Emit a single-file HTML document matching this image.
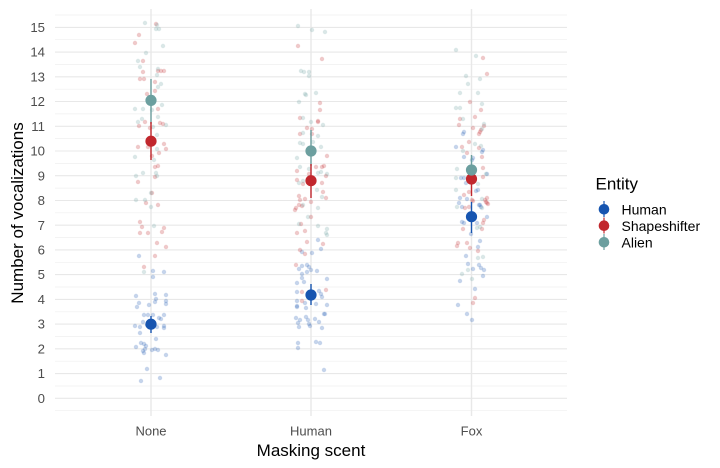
<!DOCTYPE html>
<html><head><meta charset="utf-8"><style>
html,body{margin:0;padding:0;background:#fff;}
svg{display:block;}
text{font-family:"Liberation Sans",Arial,sans-serif;}
.b{fill:#1755b0;fill-opacity:0.25}
.r{fill:#c1272d;fill-opacity:0.25}
.t{fill:#6c9f9f;fill-opacity:0.25}
.yt{font-size:13.2px;fill:#4d4d4d;text-anchor:end}
.xt{font-size:13px;fill:#4d4d4d;text-anchor:middle}
</style></head><body>
<svg width="720" height="468" viewBox="0 0 720 468" xmlns="http://www.w3.org/2000/svg">
<rect width="720" height="468" fill="#fff"/>
<g stroke="#efefef" stroke-width="0.7">
<line x1="55" x2="567" y1="410.7" y2="410.7"/><line x1="55" x2="567" y1="386.0" y2="386.0"/><line x1="55" x2="567" y1="361.2" y2="361.2"/><line x1="55" x2="567" y1="336.5" y2="336.5"/><line x1="55" x2="567" y1="311.8" y2="311.8"/><line x1="55" x2="567" y1="287.0" y2="287.0"/><line x1="55" x2="567" y1="262.3" y2="262.3"/><line x1="55" x2="567" y1="237.6" y2="237.6"/><line x1="55" x2="567" y1="212.8" y2="212.8"/><line x1="55" x2="567" y1="188.1" y2="188.1"/><line x1="55" x2="567" y1="163.4" y2="163.4"/><line x1="55" x2="567" y1="138.6" y2="138.6"/><line x1="55" x2="567" y1="113.9" y2="113.9"/><line x1="55" x2="567" y1="89.2" y2="89.2"/><line x1="55" x2="567" y1="64.4" y2="64.4"/><line x1="55" x2="567" y1="39.7" y2="39.7"/><line x1="55" x2="567" y1="15.0" y2="15.0"/>
</g>
<g stroke="#e8e8e8" stroke-width="1.1">
<line x1="55" x2="567" y1="398.3" y2="398.3"/><line x1="55" x2="567" y1="373.6" y2="373.6"/><line x1="55" x2="567" y1="348.8" y2="348.8"/><line x1="55" x2="567" y1="324.1" y2="324.1"/><line x1="55" x2="567" y1="299.4" y2="299.4"/><line x1="55" x2="567" y1="274.6" y2="274.6"/><line x1="55" x2="567" y1="249.9" y2="249.9"/><line x1="55" x2="567" y1="225.2" y2="225.2"/><line x1="55" x2="567" y1="200.5" y2="200.5"/><line x1="55" x2="567" y1="175.7" y2="175.7"/><line x1="55" x2="567" y1="151.0" y2="151.0"/><line x1="55" x2="567" y1="126.3" y2="126.3"/><line x1="55" x2="567" y1="101.5" y2="101.5"/><line x1="55" x2="567" y1="76.8" y2="76.8"/><line x1="55" x2="567" y1="52.1" y2="52.1"/><line x1="55" x2="567" y1="27.4" y2="27.4"/>
<line x1="151" x2="151" y1="9" y2="416" stroke-width="1.4"/><line x1="311" x2="311" y1="9" y2="416" stroke-width="1.4"/><line x1="471.5" x2="471.5" y1="9" y2="416" stroke-width="1.4"/>
</g>
<g class="yt">
<text x="45" y="402.9">0</text><text x="45" y="378.2">1</text><text x="45" y="353.4">2</text><text x="45" y="328.7">3</text><text x="45" y="304.0">4</text><text x="45" y="279.2">5</text><text x="45" y="254.5">6</text><text x="45" y="229.8">7</text><text x="45" y="205.1">8</text><text x="45" y="180.3">9</text><text x="45" y="155.6">10</text><text x="45" y="130.9">11</text><text x="45" y="106.1">12</text><text x="45" y="81.4">13</text><text x="45" y="56.7">14</text><text x="45" y="32.0">15</text>
</g>
<g class="xt"><text x="151" y="435.3">None</text><text x="311" y="435.3">Human</text><text x="471.5" y="435.3">Fox</text></g>
<text x="311" y="456" font-size="17" text-anchor="middle" fill="#000">Masking scent</text>
<text transform="translate(23,213) rotate(-90)" font-size="17" text-anchor="middle" fill="#000">Number of vocalizations</text>

<!-- blue points -->
<g class="b">
<circle cx="139" cy="256" r="2.2"/><circle cx="153" cy="271" r="2.2"/><circle cx="164" cy="272" r="2.2"/><circle cx="153" cy="277" r="2.2"/><circle cx="136" cy="296" r="2.2"/><circle cx="155" cy="294" r="2.2"/><circle cx="166" cy="295" r="2.2"/><circle cx="156" cy="299" r="2.2"/><circle cx="155" cy="302" r="2.2"/><circle cx="166" cy="301" r="2.2"/><circle cx="166" cy="304" r="2.2"/><circle cx="139" cy="303" r="2.2"/><circle cx="137" cy="307" r="2.2"/><circle cx="149" cy="305" r="2.2"/><circle cx="144" cy="315" r="2.2"/><circle cx="148" cy="315" r="2.2"/><circle cx="153" cy="315" r="2.2"/><circle cx="164" cy="315" r="2.2"/><circle cx="159" cy="318" r="2.2"/><circle cx="161" cy="319" r="2.2"/><circle cx="143" cy="322" r="2.2"/><circle cx="135" cy="326" r="2.2"/><circle cx="140" cy="327" r="2.2"/><circle cx="147" cy="325" r="2.2"/><circle cx="157" cy="327" r="2.2"/><circle cx="164" cy="326" r="2.2"/><circle cx="164" cy="328" r="2.2"/><circle cx="140" cy="333" r="2.2"/><circle cx="156" cy="339" r="2.2"/><circle cx="141" cy="343" r="2.2"/><circle cx="144" cy="344" r="2.2"/><circle cx="136" cy="347" r="2.2"/><circle cx="146" cy="346" r="2.2"/><circle cx="145" cy="349" r="2.2"/><circle cx="152" cy="350" r="2.2"/><circle cx="155" cy="349" r="2.2"/><circle cx="158" cy="350" r="2.2"/><circle cx="166" cy="355" r="2.2"/><circle cx="143" cy="351" r="2.2"/><circle cx="144" cy="353" r="2.2"/><circle cx="147" cy="369" r="2.2"/><circle cx="141" cy="381" r="2.2"/><circle cx="160" cy="378" r="2.2"/>
<circle cx="318" cy="240" r="2.2"/><circle cx="321" cy="249" r="2.2"/><circle cx="312" cy="253" r="2.2"/><circle cx="302" cy="252" r="2.2"/><circle cx="302" cy="266" r="2.2"/><circle cx="307" cy="265" r="2.2"/><circle cx="309" cy="267" r="2.2"/><circle cx="311" cy="270" r="2.2"/><circle cx="299" cy="269" r="2.2"/><circle cx="307" cy="272" r="2.2"/><circle cx="317" cy="271" r="2.2"/><circle cx="302" cy="274" r="2.2"/><circle cx="302" cy="278" r="2.2"/><circle cx="327" cy="279" r="2.2"/><circle cx="297" cy="283" r="2.2"/><circle cx="304" cy="282" r="2.2"/><circle cx="297" cy="292" r="2.2"/><circle cx="319" cy="291" r="2.2"/><circle cx="321" cy="294" r="2.2"/><circle cx="322" cy="297" r="2.2"/><circle cx="297" cy="301" r="2.2"/><circle cx="305" cy="303" r="2.2"/><circle cx="316" cy="304" r="2.2"/><circle cx="297" cy="306" r="2.2"/><circle cx="297" cy="307" r="2.2"/><circle cx="327" cy="305" r="2.2"/><circle cx="306" cy="308" r="2.2"/><circle cx="324" cy="314" r="2.2"/><circle cx="325" cy="314" r="2.2"/><circle cx="296" cy="318" r="2.2"/><circle cx="306" cy="317" r="2.2"/><circle cx="300" cy="320" r="2.2"/><circle cx="308" cy="320" r="2.2"/><circle cx="315" cy="319" r="2.2"/><circle cx="319" cy="322" r="2.2"/><circle cx="298" cy="323" r="2.2"/><circle cx="309" cy="324" r="2.2"/><circle cx="310" cy="326" r="2.2"/><circle cx="299" cy="327" r="2.2"/><circle cx="322" cy="328" r="2.2"/><circle cx="298" cy="343" r="2.2"/><circle cx="298" cy="348" r="2.2"/><circle cx="316" cy="342" r="2.2"/><circle cx="320" cy="343" r="2.2"/><circle cx="324" cy="370" r="2.2"/>
<circle cx="464" cy="132" r="2.2"/><circle cx="463" cy="134" r="2.2"/><circle cx="456" cy="147" r="2.2"/><circle cx="483" cy="150" r="2.2"/><circle cx="482" cy="152" r="2.2"/><circle cx="464" cy="157" r="2.2"/><circle cx="473" cy="158" r="2.2"/><circle cx="472" cy="160" r="2.2"/><circle cx="461" cy="178" r="2.2"/><circle cx="464" cy="178" r="2.2"/><circle cx="466" cy="183" r="2.2"/><circle cx="487" cy="174" r="2.2"/><circle cx="478" cy="190" r="2.2"/><circle cx="476" cy="191" r="2.2"/><circle cx="460" cy="198" r="2.2"/><circle cx="467" cy="199" r="2.2"/><circle cx="459" cy="203" r="2.2"/><circle cx="462" cy="207" r="2.2"/><circle cx="480" cy="205" r="2.2"/><circle cx="481" cy="207" r="2.2"/><circle cx="479" cy="205" r="2.2"/><circle cx="462" cy="222" r="2.2"/><circle cx="464" cy="223" r="2.2"/><circle cx="487" cy="217" r="2.2"/><circle cx="477" cy="223" r="2.2"/><circle cx="471" cy="234" r="2.2"/><circle cx="480" cy="241" r="2.2"/><circle cx="478" cy="247" r="2.2"/><circle cx="466" cy="256" r="2.2"/><circle cx="468" cy="264" r="2.2"/><circle cx="479" cy="265" r="2.2"/><circle cx="473" cy="269" r="2.2"/><circle cx="481" cy="268" r="2.2"/><circle cx="484" cy="270" r="2.2"/><circle cx="483" cy="276" r="2.2"/><circle cx="460" cy="281" r="2.2"/><circle cx="475" cy="289" r="2.2"/><circle cx="458" cy="305" r="2.2"/><circle cx="467" cy="314" r="2.2"/><circle cx="472" cy="320" r="2.2"/>
</g>
<!-- red points -->
<g class="r">
<circle cx="156" cy="24" r="2.2"/><circle cx="139" cy="35" r="2.2"/><circle cx="135" cy="43" r="2.2"/><circle cx="143" cy="61" r="2.2"/><circle cx="143" cy="72" r="2.2"/><circle cx="158" cy="71" r="2.2"/><circle cx="161" cy="71" r="2.2"/><circle cx="164" cy="71" r="2.2"/><circle cx="140" cy="79" r="2.2"/><circle cx="144" cy="79" r="2.2"/><circle cx="155" cy="82" r="2.2"/><circle cx="147" cy="94" r="2.2"/><circle cx="155" cy="91" r="2.2"/><circle cx="158" cy="109" r="2.2"/><circle cx="145" cy="122" r="2.2"/><circle cx="139" cy="126" r="2.2"/><circle cx="150" cy="128" r="2.2"/><circle cx="160" cy="123" r="2.2"/><circle cx="163" cy="124" r="2.2"/><circle cx="138" cy="147" r="2.2"/><circle cx="164" cy="144" r="2.2"/><circle cx="166" cy="149" r="2.2"/><circle cx="159" cy="153" r="2.2"/><circle cx="152" cy="156" r="2.2"/><circle cx="148" cy="147" r="2.2"/><circle cx="158" cy="166" r="2.2"/><circle cx="155" cy="167" r="2.2"/><circle cx="155" cy="177" r="2.2"/><circle cx="138" cy="182" r="2.2"/><circle cx="152" cy="193" r="2.2"/><circle cx="146" cy="203" r="2.2"/><circle cx="158" cy="205" r="2.2"/><circle cx="140" cy="222" r="2.2"/><circle cx="142" cy="227" r="2.2"/><circle cx="164" cy="228" r="2.2"/><circle cx="162" cy="232" r="2.2"/><circle cx="140" cy="233" r="2.2"/><circle cx="148" cy="233" r="2.2"/><circle cx="157" cy="243" r="2.2"/><circle cx="166" cy="247" r="2.2"/><circle cx="155" cy="256" r="2.2"/><circle cx="144" cy="267" r="2.2"/>
<circle cx="298" cy="46" r="2.2"/><circle cx="322" cy="59" r="2.2"/><circle cx="320" cy="103" r="2.2"/><circle cx="320" cy="110" r="2.2"/><circle cx="300" cy="118" r="2.2"/><circle cx="318" cy="121" r="2.2"/><circle cx="318" cy="122" r="2.2"/><circle cx="307" cy="128" r="2.2"/><circle cx="312" cy="129" r="2.2"/><circle cx="300" cy="134" r="2.2"/><circle cx="312" cy="134" r="2.2"/><circle cx="327" cy="156" r="2.2"/><circle cx="316" cy="167" r="2.2"/><circle cx="322" cy="167" r="2.2"/><circle cx="324" cy="166" r="2.2"/><circle cx="297" cy="171" r="2.2"/><circle cx="309" cy="174" r="2.2"/><circle cx="326" cy="176" r="2.2"/><circle cx="297" cy="180" r="2.2"/><circle cx="303" cy="184" r="2.2"/><circle cx="322" cy="183" r="2.2"/><circle cx="323" cy="192" r="2.2"/><circle cx="326" cy="198" r="2.2"/><circle cx="299" cy="196" r="2.2"/><circle cx="300" cy="200" r="2.2"/><circle cx="305" cy="199" r="2.2"/><circle cx="311" cy="202" r="2.2"/><circle cx="296" cy="208" r="2.2"/><circle cx="299" cy="205" r="2.2"/><circle cx="302" cy="206" r="2.2"/><circle cx="295" cy="210" r="2.2"/><circle cx="311" cy="217" r="2.2"/><circle cx="301" cy="224" r="2.2"/><circle cx="305" cy="231" r="2.2"/><circle cx="297" cy="233" r="2.2"/><circle cx="307" cy="242" r="2.2"/><circle cx="323" cy="244" r="2.2"/><circle cx="300" cy="250" r="2.2"/><circle cx="305" cy="254" r="2.2"/><circle cx="296" cy="265" r="2.2"/><circle cx="302" cy="292" r="2.2"/><circle cx="326" cy="290" r="2.2"/><circle cx="302" cy="301" r="2.2"/>
<circle cx="483" cy="58" r="2.2"/><circle cx="487" cy="74" r="2.2"/><circle cx="470" cy="102" r="2.2"/><circle cx="481" cy="110" r="2.2"/><circle cx="475" cy="117" r="2.2"/><circle cx="460" cy="119" r="2.2"/><circle cx="459" cy="125" r="2.2"/><circle cx="473" cy="128" r="2.2"/><circle cx="484" cy="126" r="2.2"/><circle cx="481" cy="130" r="2.2"/><circle cx="480" cy="132" r="2.2"/><circle cx="479" cy="134" r="2.2"/><circle cx="469" cy="142" r="2.2"/><circle cx="462" cy="147" r="2.2"/><circle cx="467" cy="153" r="2.2"/><circle cx="479" cy="148" r="2.2"/><circle cx="482" cy="157" r="2.2"/><circle cx="483" cy="168" r="2.2"/><circle cx="483" cy="177" r="2.2"/><circle cx="469" cy="192" r="2.2"/><circle cx="464" cy="195" r="2.2"/><circle cx="473" cy="201" r="2.2"/><circle cx="487" cy="198" r="2.2"/><circle cx="487" cy="203" r="2.2"/><circle cx="485" cy="200" r="2.2"/><circle cx="465" cy="208" r="2.2"/><circle cx="469" cy="207" r="2.2"/><circle cx="486" cy="202" r="2.2"/><circle cx="488" cy="204" r="2.2"/><circle cx="484" cy="220" r="2.2"/><circle cx="483" cy="223" r="2.2"/><circle cx="482" cy="229" r="2.2"/><circle cx="463" cy="229" r="2.2"/><circle cx="458" cy="243" r="2.2"/><circle cx="457" cy="246" r="2.2"/><circle cx="467" cy="243" r="2.2"/><circle cx="470" cy="248" r="2.2"/><circle cx="478" cy="251" r="2.2"/><circle cx="475" cy="298" r="2.2"/><circle cx="473" cy="303" r="2.2"/><circle cx="472" cy="200" r="2.2"/>
</g>
<!-- teal points -->
<g class="t">
<circle cx="145" cy="23" r="2.2"/><circle cx="157" cy="25" r="2.2"/><circle cx="159" cy="29" r="2.2"/><circle cx="156" cy="29" r="2.2"/><circle cx="163" cy="46" r="2.2"/><circle cx="146" cy="53" r="2.2"/><circle cx="138" cy="61" r="2.2"/><circle cx="140" cy="67" r="2.2"/><circle cx="158" cy="69" r="2.2"/><circle cx="157" cy="75" r="2.2"/><circle cx="161" cy="84" r="2.2"/><circle cx="158" cy="87" r="2.2"/><circle cx="135" cy="109" r="2.2"/><circle cx="143" cy="109" r="2.2"/><circle cx="162" cy="105" r="2.2"/><circle cx="152" cy="110" r="2.2"/><circle cx="158" cy="117" r="2.2"/><circle cx="142" cy="119" r="2.2"/><circle cx="138" cy="122" r="2.2"/><circle cx="166" cy="125" r="2.2"/><circle cx="153" cy="127" r="2.2"/><circle cx="157" cy="135" r="2.2"/><circle cx="157" cy="149" r="2.2"/><circle cx="135" cy="157" r="2.2"/><circle cx="154" cy="160" r="2.2"/><circle cx="143" cy="173" r="2.2"/><circle cx="156" cy="173" r="2.2"/><circle cx="136" cy="176" r="2.2"/><circle cx="157" cy="176" r="2.2"/><circle cx="151" cy="193" r="2.2"/><circle cx="136" cy="200" r="2.2"/><circle cx="145" cy="200" r="2.2"/><circle cx="151" cy="207" r="2.2"/><circle cx="154" cy="226" r="2.2"/><circle cx="144" cy="272" r="2.2"/>
<circle cx="298" cy="26" r="2.2"/><circle cx="312" cy="30" r="2.2"/><circle cx="325" cy="32" r="2.2"/><circle cx="301" cy="71" r="2.2"/><circle cx="304" cy="72" r="2.2"/><circle cx="309" cy="72" r="2.2"/><circle cx="309" cy="76" r="2.2"/><circle cx="305" cy="94" r="2.2"/><circle cx="306" cy="95" r="2.2"/><circle cx="316" cy="93" r="2.2"/><circle cx="299" cy="102" r="2.2"/><circle cx="303" cy="118" r="2.2"/><circle cx="311" cy="122" r="2.2"/><circle cx="323" cy="125" r="2.2"/><circle cx="303" cy="133" r="2.2"/><circle cx="318" cy="136" r="2.2"/><circle cx="313" cy="142" r="2.2"/><circle cx="300" cy="143" r="2.2"/><circle cx="303" cy="144" r="2.2"/><circle cx="321" cy="147" r="2.2"/><circle cx="297" cy="158" r="2.2"/><circle cx="300" cy="167" r="2.2"/><circle cx="309" cy="169" r="2.2"/><circle cx="321" cy="172" r="2.2"/><circle cx="318" cy="173" r="2.2"/><circle cx="327" cy="174" r="2.2"/><circle cx="299" cy="183" r="2.2"/><circle cx="303" cy="181" r="2.2"/><circle cx="317" cy="190" r="2.2"/><circle cx="322" cy="197" r="2.2"/><circle cx="318" cy="208" r="2.2"/><circle cx="303" cy="205" r="2.2"/><circle cx="308" cy="217" r="2.2"/><circle cx="318" cy="226" r="2.2"/><circle cx="327" cy="229" r="2.2"/><circle cx="326" cy="233" r="2.2"/><circle cx="327" cy="235" r="2.2"/><circle cx="299" cy="224" r="2.2"/>
<circle cx="456" cy="50" r="2.2"/><circle cx="476" cy="56" r="2.2"/><circle cx="466" cy="76" r="2.2"/><circle cx="480" cy="79" r="2.2"/><circle cx="468" cy="84" r="2.2"/><circle cx="460" cy="93" r="2.2"/><circle cx="478" cy="93" r="2.2"/><circle cx="482" cy="104" r="2.2"/><circle cx="456" cy="108" r="2.2"/><circle cx="460" cy="108" r="2.2"/><circle cx="463" cy="119" r="2.2"/><circle cx="484" cy="124" r="2.2"/><circle cx="482" cy="129" r="2.2"/><circle cx="475" cy="144" r="2.2"/><circle cx="481" cy="146" r="2.2"/><circle cx="463" cy="151" r="2.2"/><circle cx="457" cy="169" r="2.2"/><circle cx="456" cy="178" r="2.2"/><circle cx="486" cy="174" r="2.2"/><circle cx="456" cy="190" r="2.2"/><circle cx="478" cy="184" r="2.2"/><circle cx="482" cy="199" r="2.2"/><circle cx="457" cy="207" r="2.2"/><circle cx="482" cy="208" r="2.2"/><circle cx="483" cy="257" r="2.2"/><circle cx="478" cy="258" r="2.2"/><circle cx="468" cy="270" r="2.2"/><circle cx="462" cy="274" r="2.2"/><circle cx="472" cy="279" r="2.2"/><circle cx="480" cy="227" r="2.2"/><circle cx="477" cy="228" r="2.2"/>
</g>
<!-- pointranges -->
<g stroke-width="1.4">
<line x1="151" x2="151" y1="79" y2="124" stroke="#6c9f9f"/>
<line x1="151" x2="151" y1="122" y2="160" stroke="#c1272d"/>
<line x1="151" x2="151" y1="316" y2="333" stroke="#1755b0"/>
<line x1="311" x2="311" y1="130" y2="166" stroke="#6c9f9f"/>
<line x1="311" x2="311" y1="164" y2="198" stroke="#c1272d"/>
<line x1="311" x2="311" y1="284" y2="305" stroke="#1755b0"/>
<line x1="471.5" x2="471.5" y1="155" y2="181" stroke="#6c9f9f"/>
<line x1="471.5" x2="471.5" y1="172" y2="196" stroke="#c1272d"/>
<line x1="471.5" x2="471.5" y1="202" y2="233" stroke="#1755b0"/>
</g>
<circle cx="151" cy="324.2" r="5.6" fill="#1755b0"/>
<circle cx="151" cy="141.2" r="5.6" fill="#c1272d"/>
<circle cx="151" cy="100.4" r="5.6" fill="#6c9f9f"/>
<circle cx="311" cy="295" r="5.6" fill="#1755b0"/>
<circle cx="311" cy="180.7" r="5.6" fill="#c1272d"/>
<circle cx="311" cy="151" r="5.6" fill="#6c9f9f"/>
<circle cx="471.5" cy="216.7" r="5.6" fill="#1755b0"/>
<circle cx="471.5" cy="179" r="5.6" fill="#c1272d"/>
<circle cx="471.5" cy="170" r="5.6" fill="#6c9f9f"/>

<!-- legend -->
<text x="595.5" y="189.3" font-size="17" fill="#000">Entity</text>
<g stroke-width="1.2">
<line x1="604" x2="604" y1="201" y2="217" stroke="#1755b0"/>
<line x1="604" x2="604" y1="217.5" y2="233.5" stroke="#c1272d"/>
<line x1="604" x2="604" y1="234" y2="250" stroke="#6c9f9f"/>
</g>
<circle cx="604" cy="209.3" r="5.3" fill="#1755b0"/>
<circle cx="604" cy="225.7" r="5.3" fill="#c1272d"/>
<circle cx="604" cy="242.3" r="5.3" fill="#6c9f9f"/>
<g font-size="14" fill="#000">
<text x="621.5" y="214.3">Human</text>
<text x="621.5" y="230.8">Shapeshifter</text>
<text x="621.5" y="247.3">Alien</text>
</g>
</svg>
</body></html>
